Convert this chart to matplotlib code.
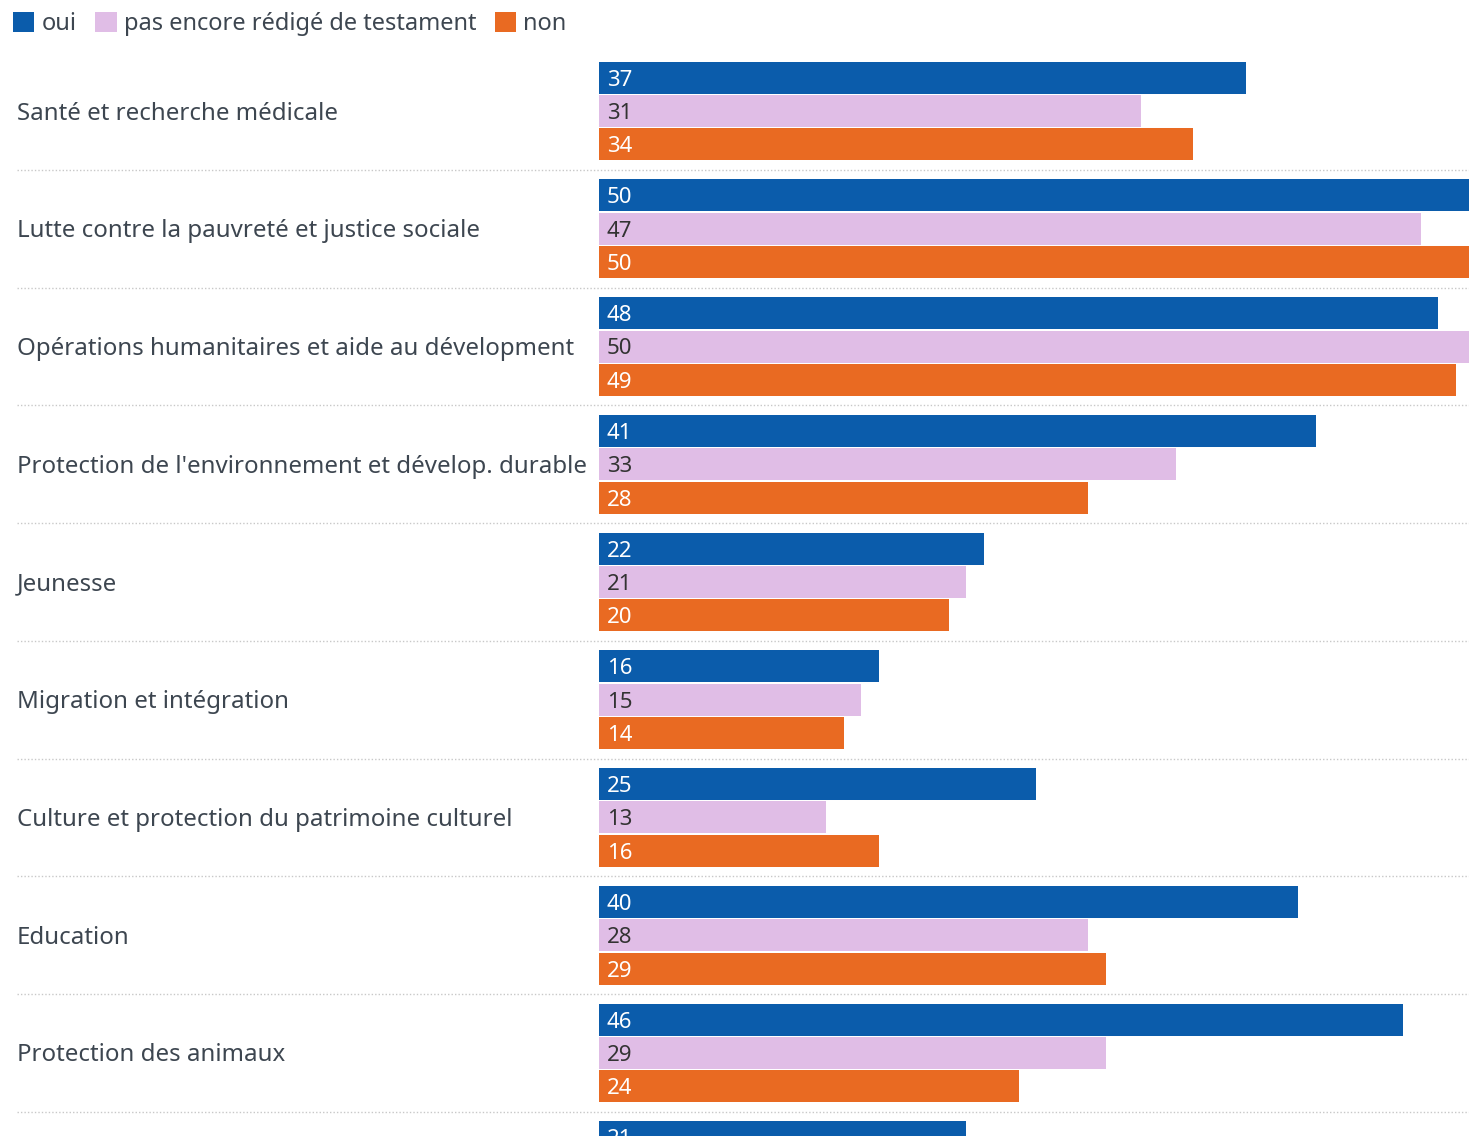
import matplotlib
matplotlib.use("Agg")
import matplotlib.pyplot as plt
import matplotlib.transforms as mtransforms
from matplotlib.patches import Patch

plt.rcParams['font.family'] = ['Noto Sans', 'DejaVu Sans']

categories = [
    "Santé et recherche médicale",
    "Lutte contre la pauvreté et justice sociale",
    "Opérations humanitaires et aide au dévelopment",
    "Protection de l'environnement et dévelop. durable",
    "Jeunesse",
    "Migration et intégration",
    "Culture et protection du patrimoine culturel",
    "Education",
    "Protection des animaux",
    "",
]
series_names = ["oui", "pas encore rédigé de testament", "non"]
oui = [37, 50, 48, 41, 22, 16, 25, 40, 46, 21]
pas_encore = [31, 47, 50, 33, 21, 15, 13, 28, 29, 20]
non = [34, 50, 49, 28, 20, 14, 16, 29, 24, 20]

colors = ["#0b5cab", "#e0bde6", "#e96a22"]
label_colors = ["white", "#333333", "white"]
text_color = "#3d4650"

W, H = 1469, 1136
fig = plt.figure(figsize=(W / 100, H / 100), dpi=100)
x0 = 599 / W
ax = fig.add_axes([x0, 0, 1 - x0, 1])

group_px = 117.75
first_center_px = 111
y_top = -first_center_px / group_px
y_bot = (H - first_center_px) / group_px
ax.set_ylim(y_bot, y_top)
ax.set_xlim(0, 870 / 17.48)

pitch = 33.3 / group_px
bh = 32 / group_px
offsets = [-pitch, 0, pitch]
text_shift = 2.5 / group_px

for s, vals in enumerate([oui, pas_encore, non]):
    for i, v in enumerate(vals):
        y = i + offsets[s]
        ax.barh(y, v, height=bh, color=colors[s], linewidth=0)
        if y - bh / 2 < y_bot:
            ax.text(0.45, y + text_shift, str(v), color=label_colors[s], fontsize=16,
                    va='center', ha='left', clip_on=True)

trans = mtransforms.blended_transform_factory(fig.transFigure, ax.transData)
for i, c in enumerate(categories):
    if c:
        fig.text(17 / W, i + text_shift, c, transform=trans, fontsize=17.3,
                 color=text_color, va='center', ha='left')
    ax.plot([17 / W, 1.0], [i + 0.5, i + 0.5], transform=trans, clip_on=False,
            color="#c8c8c8", linestyle=(0, (1, 1.5)), linewidth=1)

ax.axis('off')

handles = [Patch(facecolor=c, edgecolor='none') for c in colors]
fig.legend(handles, series_names, loc='upper left', bbox_to_anchor=(6 / W, 1 - 5 / H),
           ncol=3, frameon=False, fontsize=17, handlelength=0.9, handleheight=0.9,
           handletextpad=0.3, columnspacing=0.8, labelcolor=text_color,
           borderaxespad=0, borderpad=0.3)

fig.savefig("out.png", dpi=100)
